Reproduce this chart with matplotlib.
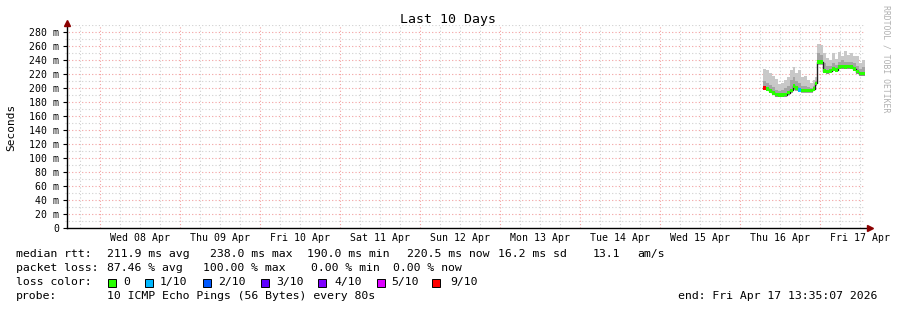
import datetime as dt
import numpy as np
import matplotlib
matplotlib.use("Agg")
import matplotlib.pyplot as plt
import matplotlib.dates as mdates
from matplotlib.patches import Rectangle

W, H = 897, 310
MONO = "DejaVu Sans Mono"

START = dt.datetime(2026, 4, 7, 13, 35, 7)
END = dt.datetime(2026, 4, 17, 13, 35, 7)
DAY0 = dt.datetime(2026, 4, 16)

# ---- data ----
# sample times, hours after Thu 16 Apr 00:00
hours = [6.9, 7.8, 8.7, 9.6, 10.5, 11.4, 12.3, 13.2, 14.1, 15.0, 15.9, 16.5,
         17.4, 18.3, 19.2, 20.1, 21.0, 21.9, 22.5, 23.1, 24.0, 24.9, 25.8,
         26.7, 27.6, 28.5, 29.4, 30.3, 31.2, 32.1, 33.0, 33.9, 34.8, 35.7, 36.6]
median_ms = [200, 199, 196, 193, 191, 190, 190, 191, 194, 197, 203, 200,
             198, 197, 197, 197, 197, 199, 207, 238, 238, 225, 224, 225,
             228, 226, 230, 231, 230, 231, 230, 228, 224, 221, 221]
smoke_hi = [228, 226, 222, 218, 214, 206, 208, 212, 216, 226, 230, 222,
            226, 216, 218, 212, 208, 212, 216, 264, 262, 250, 244, 240,
            250, 242, 252, 246, 254, 248, 250, 246, 246, 236, 240]
smoke_mid = [210, 208, 205, 202, 198, 196, 197, 200, 204, 212, 216, 210,
             208, 203, 204, 202, 201, 204, 210, 250, 248, 236, 232, 232,
             236, 234, 238, 240, 238, 238, 238, 236, 232, 228, 230]
smoke_lo = [197, 196, 193, 190, 188, 187, 187, 188, 191, 194, 198, 196,
            195, 194, 194, 194, 194, 196, 204, 234, 234, 222, 221, 222,
            225, 223, 227, 228, 227, 228, 227, 225, 221, 218, 218]
loss = [9, 0, 0, 0, 0, 0, 0, 0, 0, 0, 0, 0,
        1, 0, 0, 0, 0, 0, 0, 0, 0, 0, 0, 0,
        0, 0, 0, 0, 0, 0, 0, 0, 0, 0, 0]

loss_levels = [0, 1, 2, 3, 4, 5, 9]
loss_labels = ["0", "1/10", "2/10", "3/10", "4/10", "5/10", "9/10"]
loss_colors = ["#26ff00", "#00b8ff", "#0059ff", "#5e00ff", "#7e00ff", "#dd00ff", "#ff0000"]

y_ticks = list(range(0, 281, 20))
day_labels = ["Wed 08 Apr", "Thu 09 Apr", "Fri 10 Apr", "Sat 11 Apr", "Sun 12 Apr",
              "Mon 13 Apr", "Tue 14 Apr", "Wed 15 Apr", "Thu 16 Apr", "Fri 17 Apr"]

legend_rtt = [("median rtt:", 16), ("211.9 ms avg", 107), ("238.0 ms max", 210),
              ("190.0 ms min", 307), ("220.5 ms now", 407), ("16.2 ms sd", 498),
              ("13.1", 593), ("am/s", 637)]
legend_loss = [("packet loss:", 16), ("87.46 % avg", 107), ("100.00 % max", 203),
               ("0.00 % min", 311), ("0.00 % now", 393)]
box_x = [108, 145, 203, 261, 318, 377, 432]
label_x = [123, 160, 218, 276, 334, 391, 450]


def fx(x):
    return x / W


def fy(y):
    return 1 - y / H


fig = plt.figure(figsize=(W / 100, H / 100), dpi=100)
fig.patch.set_facecolor("white")
ax = fig.add_axes([fx(65.3), fy(228.3), 800 / W, (228.3 - 25.3) / H])
ax.set_facecolor("white")

t = [DAY0 + dt.timedelta(hours=h) for h in hours] + [END]
t_num = mdates.date2num(t)
med = np.array(median_ms + [median_ms[-1]], dtype=float)
hi = np.array(smoke_hi + [smoke_hi[-1]], dtype=float)
mid = np.array(smoke_mid + [smoke_mid[-1]], dtype=float)
lo = np.array(smoke_lo + [smoke_lo[-1]], dtype=float)

x0, x1 = mdates.date2num(START), mdates.date2num(END)
ax.set_xlim(x0, x1)
ax.set_ylim(0, 290)

# grid: minor gray, major red-ish
dot = (0, (1, 2))
for v in range(10, 291, 10):
    if v % 20:
        ax.axhline(v, color="#d0d0d0", lw=0.8, ls=dot, zorder=0)
for v in y_ticks[1:]:
    ax.axhline(v, color="#f2a0a0", lw=0.8, ls=dot, zorder=0)
d = dt.datetime(2026, 4, 7, 18)
while d < END:
    xv = mdates.date2num(d)
    if d.hour == 0:
        ax.axvline(xv, color="#f2a0a0", lw=0.8, ls=dot, zorder=0)
    else:
        ax.axvline(xv, color="#d0d0d0", lw=0.8, ls=dot, zorder=0)
    d += dt.timedelta(hours=6)

# smoke
ax.fill_between(t_num, lo, hi, step="post", color="#c8c8c8", lw=0, zorder=2)
ax.fill_between(t_num, lo, mid, step="post", color="#a4a4a4", lw=0, zorder=2)

# median line + loss coloured bars
ax.step(t_num, med, where="post", color="#202020", lw=1.0, zorder=3)
widths = np.diff(t_num)
bar_colors = [loss_colors[loss_levels.index(l)] for l in loss]
ax.bar(t_num[:-1], 5.2, width=widths, bottom=np.array(median_ms) - 2.6,
       align="edge", color=bar_colors, lw=0, zorder=4)

# axes lines with arrows
for s in ax.spines.values():
    s.set_visible(False)
ax.plot([0.0015, 0.0015], [0, 1.01], transform=ax.transAxes, color="black", lw=1, clip_on=False, zorder=5)
ax.plot([0.0015, 1.006], [0, 0], transform=ax.transAxes, color="black", lw=1, clip_on=False, zorder=5)
ax.plot([0.0015], [1.01], transform=ax.transAxes, marker="^", ms=4, color="#8b0000", clip_on=False, zorder=6)
ax.plot([1.006], [0], transform=ax.transAxes, marker=">", ms=4, color="#8b0000", clip_on=False, zorder=6)

# ticks
ax.set_yticks(y_ticks)
ax.set_yticklabels(["0" if v == 0 else f"{v} m" for v in y_ticks], family=MONO, fontsize=7.1)
ax.tick_params(axis="y", direction="inout", length=3, width=0.8, pad=2.8)
ax.set_xticks([mdates.date2num(dt.datetime(2026, 4, 8 + i, 12)) for i in range(len(day_labels))])
ax.set_xticklabels(day_labels, family=MONO, fontsize=7.1)
ax.tick_params(axis="x", length=0, pad=3.5)

# texts
fig.text(fx(448), fy(19), "Last 10 Days", family=MONO, fontsize=9.5, ha="center", va="center")
fig.text(fx(11), fy(127), "Seconds", family=MONO, fontsize=8, rotation=90, ha="center", va="center")
fig.text(fx(886), fy(59), "RRDTOOL / TOBI OETIKER", family=MONO, fontsize=5.9,
         rotation=270, ha="center", va="center", color="#b0b0b0")

for s, x in legend_rtt:
    fig.text(fx(x), fy(254.3), s, family=MONO, fontsize=8.25, va="center")
for s, x in legend_loss:
    fig.text(fx(x), fy(268.3), s, family=MONO, fontsize=8.25, va="center")
fig.text(fx(16), fy(282.3), "loss color:", family=MONO, fontsize=8.25, va="center")
for bx, lx, lab, col in zip(box_x, label_x, loss_labels, loss_colors):
    fig.add_artist(Rectangle((fx(bx), fy(286.5)), 8 / W, 8 / H, transform=fig.transFigure,
                             facecolor=col, edgecolor="black", lw=0.7))
    fig.text(fx(lx), fy(282.3), lab, family=MONO, fontsize=8.25, va="center")
fig.text(fx(16), fy(296.3), "probe:", family=MONO, fontsize=8.25, va="center")
fig.text(fx(107), fy(296.3), "10 ICMP Echo Pings (56 Bytes) every 80s", family=MONO, fontsize=8.25, va="center")
fig.text(fx(678), fy(296.3), "end: Fri Apr 17 13:35:07 2026", family=MONO, fontsize=8.25, va="center")

fig.savefig("out.png", dpi=100, facecolor="white")
